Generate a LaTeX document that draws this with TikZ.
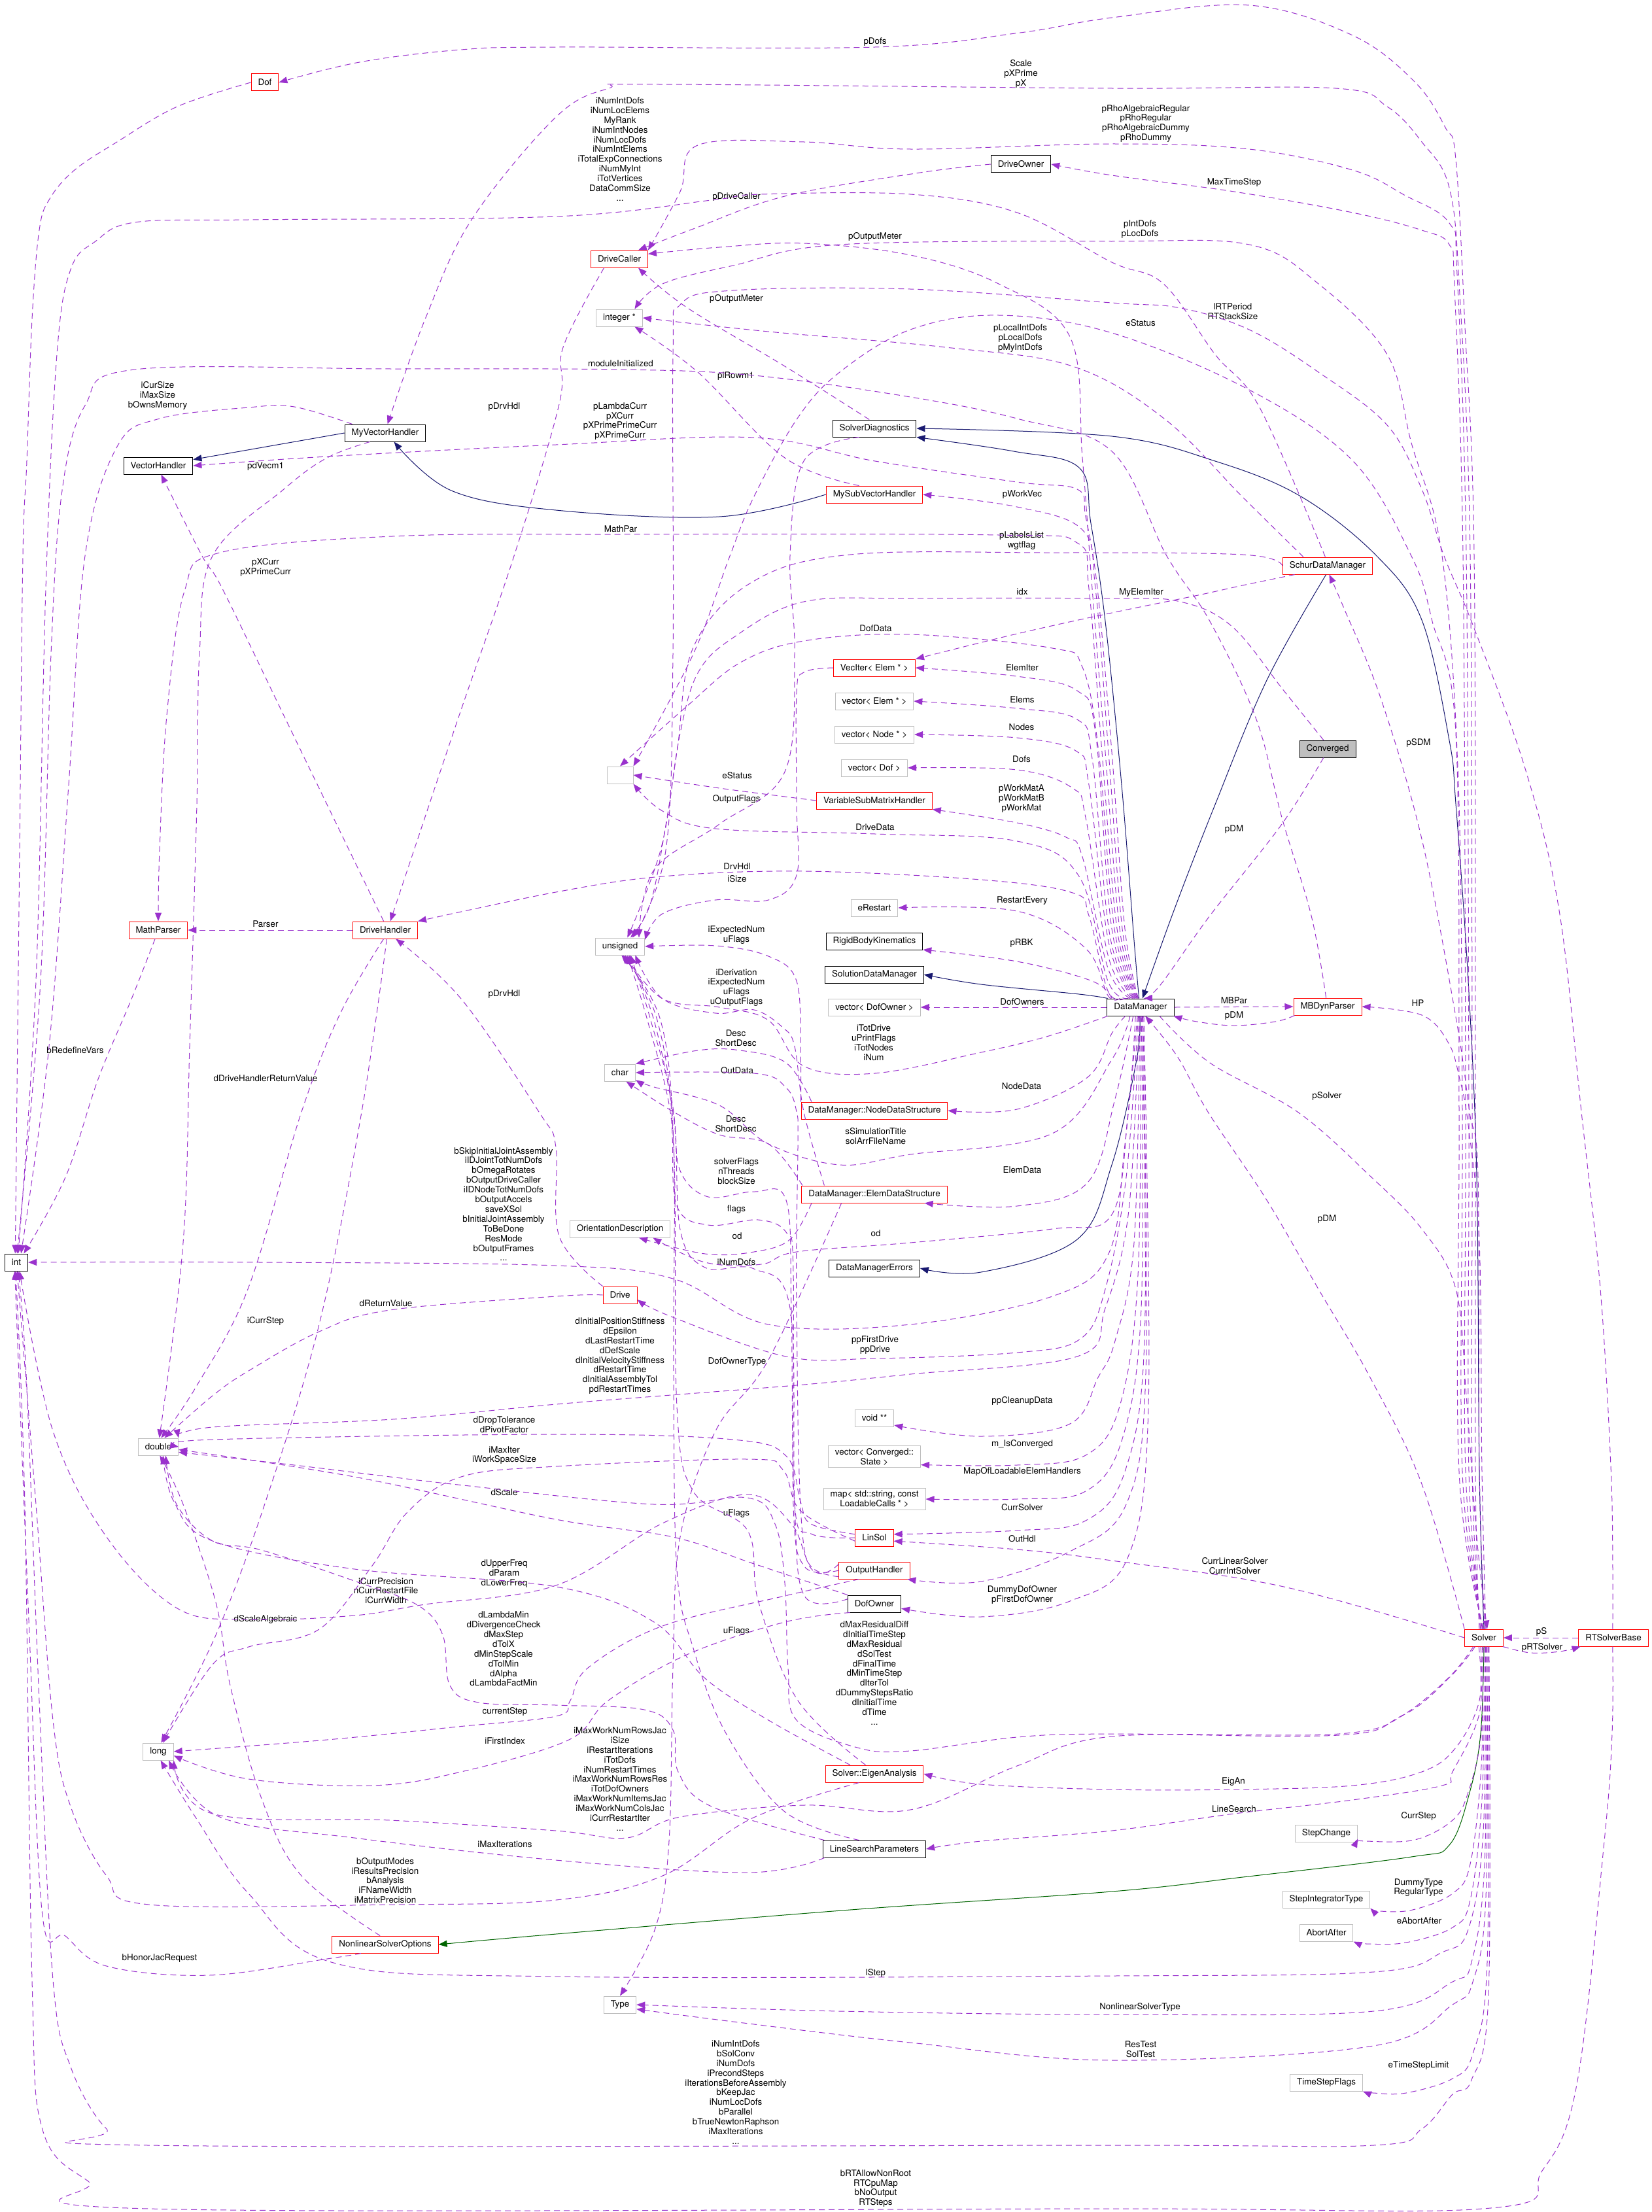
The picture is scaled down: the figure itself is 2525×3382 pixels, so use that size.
\documentclass[tikz,border=0pt]{standalone}
\usepackage{fontspec}
\setmainfont{TeX Gyre Heros}
\usetikzlibrary{arrows.meta}
\definecolor{edgepurple}{RGB}{154,50,205}
\definecolor{inhblue}{RGB}{25,25,112}
\definecolor{compgreen}{RGB}{0,100,0}
\definecolor{boxgray}{RGB}{191,191,191}
\newcommand{\dxf}{\fontsize{13.4}{14.9}\selectfont}

\begin{document}
\begin{tikzpicture}[x=1pt, y=-1pt]

    % Define the styles
    \tikzstyle{cls} = [rectangle, draw=black, line width=1pt, fill=white, font=\dxf, align=center, minimum height=26pt, inner xsep=10.5pt, inner ysep=4pt]
    \tikzstyle{clsred} = [cls, draw=red]
    \tikzstyle{clsgray} = [cls, draw=boxgray]
    \tikzstyle{focus} = [cls, fill=boxgray]
    \tikzstyle{lbl} = [font=\dxf, align=center, inner sep=0pt]
    \tikzstyle{dep} = [draw=edgepurple, line width=1pt, dash pattern=on 9pt off 6pt, -{Triangle[length=13pt,width=10pt]}, fill=none]
    \tikzstyle{inh} = [draw=inhblue, line width=1pt, -{Triangle[length=13pt,width=10pt]}]
    \tikzstyle{comp} = [draw=compgreen, line width=1pt, -{Triangle[length=13pt,width=10pt]}]

    \fill[white] (0,0) rectangle (2525,3382);
    \useasboundingbox (0,0) rectangle (2525,3382);

    % Nodes
    \node[clsred] (dof) at (405,126) {Dof};
    \node[cls] (myvh) at (589,662) {MyVectorHandler};
    \node[cls] (vh) at (242,712) {VectorHandler};
    \node[cls] (driveowner) at (1561,251) {DriveOwner};
    \node[clsred] (drivecaller) at (947,396) {DriveCaller};
    \node[clsgray] (integer) at (947,486) {integer *};
    \node[cls] (solverdiag) at (1337,655) {SolverDiagnostics};
    \node[clsred] (mysubvh) at (1337,756) {MySubVectorHandler};
    \node[clsred] (schur) at (2030,865) {SchurDataManager};
    \node[focus] (converged) at (2030,1145) {Converged};
    \node[cls] (dm) at (1744,1540) {DataManager};
    \node[clsred] (mbdyn) at (2030,1539) {MBDynParser};
    \node[clsred] (solver) at (2269,2504) {Solver};
    \node[clsred] (rtsb) at (2467,2504) {RTSolverBase};
    \node[clsgray] (stepchange) at (2028,2803) {StepChange};
    \node[clsgray] (stepint) at (2028,2904) {StepIntegratorType};
    \node[clsgray] (abortafter) at (2028,2955) {AbortAfter};
    \node[clsgray] (tsflags) at (2028,3184) {TimeStepFlags};
    \node[clsred] (mathparser) at (242,1422) {MathParser};
    \node[clsred] (drivehandler) at (589,1422) {DriveHandler};
    \node[clsgray, minimum width=40pt] (blank) at (948,1185) {};
    \node[clsred] (veciter) at (1337,1021) {VecIter< Elem * >};
    \node[clsgray] (vecelem) at (1337,1072) {vector< Elem * >};
    \node[clsgray] (vecnode) at (1337,1123) {vector< Node * >};
    \node[clsgray] (vecdof) at (1337,1174) {vector< Dof >};
    \node[clsred] (vsmh) at (1337,1224) {VariableSubMatrixHandler};
    \node[clsgray] (erestart) at (1337,1388) {eRestart};
    \node[cls] (rbk) at (1337,1439) {RigidBodyKinematics};
    \node[cls] (sdm) at (1337,1490) {SolutionDataManager};
    \node[clsgray] (vecdofowner) at (1337,1540) {vector< DofOwner >};
    \node[clsgray] (unsigned) at (948,1447) {unsigned};
    \node[clsgray] (char) at (948,1640) {char};
    \node[clsred] (nds) at (1337,1698) {DataManager::NodeDataStructure};
    \node[clsred] (eds) at (1337,1826) {DataManager::ElemDataStructure};
    \node[clsgray] (orient) at (948,1879) {OrientationDescription};
    \node[cls] (dmerr) at (1337,1939) {DataManagerErrors};
    \node[clsred] (drive) at (948,1980) {Drive};
    \node[clsgray] (voidpp) at (1337,2168) {void **};
    \node[clsgray] (vecconv) at (1337,2227) {vector< Converged::\\State >};
    \node[clsgray] (mapload) at (1337,2292) {map< std::string, const\\LoadableCalls * >};
    \node[clsred] (linsol) at (1337,2351) {LinSol};
    \node[clsred] (outhdl) at (1337,2401) {OutputHandler};
    \node[cls] (dofowner) at (1337,2452) {DofOwner};
    \node[cls] (int) at (25,1930) {int};
    \node[clsgray] (double) at (242,2212) {double};
    \node[clsgray] (long) at (242,2678) {long};
    \node[clsred] (nlso) at (589,2973) {NonlinearSolverOptions};
    \node[clsred] (eigen) at (1337,2712) {Solver::EigenAnalysis};
    \node[cls] (lsp) at (1337,2827) {LineSearchParameters};
    \node[clsgray] (type) at (948,3065) {Type};

    % Labels
    \node[lbl] (lPDofs) at (1338,64) {pDofs};
    \node[lbl] (lScale) at (1561,113) {Scale\\pXPrime\\pX};
    \node[lbl] (lSchurInt) at (948,228) {iNumIntDofs\\iNumLocElems\\MyRank\\iNumIntNodes\\iNumLocDofs\\iNumIntElems\\iTotalExpConnections\\iNumMyInt\\iTotVertices\\DataCommSize\\...};
    \node[lbl] (lRho) at (1752,189) {pRhoAlgebraicRegular\\pRhoRegular\\pRhoAlgebraicDummy\\pRhoDummy};
    \node[lbl] (lDriveCaller) at (1126,301) {pDriveCaller};
    \node[lbl] (lMaxTS) at (1887,279) {MaxTimeStep};
    \node[lbl] (lOutMeterA) at (1338,362) {pOutputMeter};
    \node[lbl] (lIntDofs) at (1743,351) {pIntDofs\\pLocDofs};
    \node[lbl] (lOutMeterB) at (1126,457) {pOutputMeter};
    \node[lbl] (lRTPeriod) at (1885,476) {lRTPeriod\\RTStackSize};
    \node[lbl] (lEStatusS) at (1744,494) {eStatus};
    \node[lbl] (lLocalDofs) at (1560,517) {pLocalIntDofs\\pLocalDofs\\pMyIntDofs};
    \node[lbl] (lModInit) at (949,556) {moduleInitialized};
    \node[lbl] (lRowm) at (1125,575) {piRowm1};
    \node[lbl] (lCurSize) at (241,605) {iCurSize\\iMaxSize\\bOwnsMemory};
    \node[lbl] (lDrvHdlA) at (771,622) {pDrvHdl};
    \node[lbl] (lLambda) at (948,644) {pLambdaCurr\\pXCurr\\pXPrimePrimeCurr\\pXPrimeCurr};
    \node[lbl] (lVecm) at (406,713) {pdVecm1};
    \node[lbl] (lWorkVec) at (1563,756) {pWorkVec};
    \node[lbl] (lMathPar) at (949,809) {MathPar};
    \node[lbl] (lLabels) at (1562,827) {pLabelsList\\wgtflag};
    \node[lbl] (lXCurr) at (406,867) {pXCurr\\pXPrimeCurr};
    \node[lbl] (lIdx) at (1563,905) {idx};
    \node[lbl] (lMyElemIter) at (1745,906) {MyElemIter};
    \node[lbl] (lDofData) at (1339,961) {DofData};
    \node[lbl] (lElemIter) at (1563,1021) {ElemIter};
    \node[lbl] (lElems) at (1563,1070) {Elems};
    \node[lbl] (lNodes) at (1562,1112) {Nodes};
    \node[lbl] (lSDM) at (2169,1136) {pSDM};
    \node[lbl] (lDofs) at (1562,1161) {Dofs};
    \node[lbl] (lEStatusV) at (1127,1186) {eStatus};
    \node[lbl] (lWorkMat) at (1562,1221) {pWorkMatA\\pWorkMatB\\pWorkMat};
    \node[lbl] (lOutFlags) at (1126,1222) {OutputFlags};
    \node[lbl] (lDriveData) at (1338,1265) {DriveData};
    \node[lbl] (lPDMc) at (1887,1268) {pDM};
    \node[lbl] (lDrvHdl) at (1127,1325) {DrvHdl};
    \node[lbl] (lISize) at (1127,1344) {iSize};
    \node[lbl] (lRestart) at (1563,1377) {RestartEvery};
    \node[lbl] (lParser) at (406,1413) {Parser};
    \node[lbl] (lExpNum) at (1126,1430) {iExpectedNum\\uFlags};
    \node[lbl] (lRBK) at (1562,1442) {pRBK};
    \node[lbl] (lDeriv) at (1126,1510) {iDerivation\\iExpectedNum\\uFlags\\uOutputFlags};
    \node[lbl] (lDrvHdlB) at (771,1520) {pDrvHdl};
    \node[lbl] (lMBPar) at (1887,1530) {MBPar};
    \node[lbl] (lHP) at (2168,1534) {HP};
    \node[lbl] (lDofOwners) at (1563,1532) {DofOwners};
    \node[lbl] (lPDMm) at (1887,1553) {pDM};
    \node[lbl] (lTotDrive) at (1336,1594) {iTotDrive\\uPrintFlags\\iTotNodes\\iNum};
    \node[lbl] (lDescN) at (1125,1587) {Desc\\ShortDesc};
    \node[lbl] (lRedef) at (115,1606) {bRedefineVars};
    \node[lbl] (lOutData) at (1127,1637) {OutData};
    \node[lbl] (lDHRet) at (406,1649) {dDriveHandlerReturnValue};
    \node[lbl] (lNodeData) at (1562,1661) {NodeData};
    \node[lbl] (lPSolver) at (2029,1676) {pSolver};
    \node[lbl] (lDescE) at (1125,1718) {Desc\\ShortDesc};
    \node[lbl] (lSimTitle) at (1339,1737) {sSimulationTitle\\solArrFileName};
    \node[lbl] (lElemData) at (1563,1789) {ElemData};
    \node[lbl] (lSolverFlags) at (1126,1791) {solverFlags\\nThreads\\blockSize};
    \node[lbl] (lSkip) at (770,1841) {bSkipInitialJointAssembly\\iIDJointTotNumDofs\\bOmegaRotates\\bOutputDriveCaller\\iIDNodeTotNumDofs\\bOutputAccels\\saveXSol\\bInitialJointAssembly\\ToBeDone\\ResMode\\bOutputFrames\\...};
    \node[lbl] (lFlags) at (1126,1849) {flags};
    \node[lbl] (lPDMs) at (2029,1864) {pDM};
    \node[lbl] (lOdE) at (1127,1890) {od};
    \node[lbl] (lOdD) at (1339,1886) {od};
    \node[lbl] (lNumDofs) at (1126,1930) {iNumDofs};
    \node[lbl] (lRetVal) at (590,1993) {dReturnValue};
    \node[lbl] (lCurrStepD) at (406,2020) {iCurrStep};
    \node[lbl] (lStiff) at (948,2073) {dInitialPositionStiffness\\dEpsilon\\dLastRestartTime\\dDefScale\\dInitialVelocityStiffness\\dRestartTime\\dInitialAssemblyTol\\pdRestartTimes};
    \node[lbl] (lPPDrive) at (1338,2057) {ppFirstDrive\\ppDrive};
    \node[lbl] (lDOType) at (1127,2082) {DofOwnerType};
    \node[lbl] (lCleanup) at (1563,2142) {ppCleanupData};
    \node[lbl] (lDropTol) at (771,2178) {dDropTolerance\\dPivotFactor};
    \node[lbl] (lIsConv) at (1563,2208) {m\_IsConverged};
    \node[lbl] (lMaxIter) at (771,2225) {iMaxIter\\iWorkSpaceSize};
    \node[lbl] (lMapLoad) at (1563,2250) {MapOfLoadableElemHandlers};
    \node[lbl] (lDScale) at (771,2282) {dScale};
    \node[lbl] (lCurrSolver) at (1563,2305) {CurrSolver};
    \node[lbl] (lUFlagsA) at (1126,2314) {uFlags};
    \node[lbl] (lOutHdl) at (1563,2353) {OutHdl};
    \node[lbl] (lCurrLin) at (1888,2394) {CurrLinearSolver\\CurrIntSolver};
    \node[lbl] (lFreq) at (771,2406) {dUpperFreq\\dParam\\dLowerFreq};
    \node[lbl] (lCurrPrec) at (590,2432) {iCurrPrecision\\nCurrRestartFile\\iCurrWidth};
    \node[lbl] (lDummyDO) at (1563,2438) {DummyDofOwner\\pFirstDofOwner};
    \node[lbl] (lScaleAlg) at (406,2476) {dScaleAlgebraic};
    \node[lbl] (lUFlagsB) at (1126,2494) {uFlags};
    \node[lbl] (lPS) at (2357,2495) {pS};
    \node[lbl] (lPRT) at (2358,2519) {pRTSolver};
    \node[lbl] (lLambdaMin) at (770,2521) {dLambdaMin\\dDivergenceCheck\\dMaxStep\\dTolX\\dMinStepScale\\dTolMin\\dAlpha\\dLambdaFactMin};
    \node[lbl] (lMaxRes) at (1337,2558) {dMaxResidualDiff\\dInitialTimeStep\\dMaxResidual\\dSolTest\\dFinalTime\\dMinTimeStep\\dIterTol\\dDummyStepsRatio\\dInitialTime\\dTime\\...};
    \node[lbl] (lCurStep) at (772,2617) {currentStep};
    \node[lbl] (lFirstIdx) at (772,2662) {iFirstIndex};
    \node[lbl] (lMaxWork) at (948,2720) {iMaxWorkNumRowsJac\\iSize\\iRestartIterations\\iTotDofs\\iNumRestartTimes\\iMaxWorkNumRowsRes\\iTotDofOwners\\iMaxWorkNumItemsJac\\iMaxWorkNumColsJac\\iCurrRestartIter\\...};
    \node[lbl] (lEigAn) at (1886,2724) {EigAn};
    \node[lbl] (lLineSearch) at (1887,2766) {LineSearch};
    \node[lbl] (lCurrStepS) at (2169,2777) {CurrStep};
    \node[lbl] (lMaxIters) at (772,2820) {iMaxIterations};
    \node[lbl] (lEigOpts) at (589,2875) {bOutputModes\\iResultsPrecision\\bAnalysis\\iFNameWidth\\iMatrixPrecision};
    \node[lbl] (lDummyType) at (2169,2886) {DummyType\\RegularType};
    \node[lbl] (lAbort) at (2170,2937) {eAbortAfter};
    \node[lbl] (lHonor) at (244,2994) {bHonorJacRequest};
    \node[lbl] (lLStep) at (1339,3017) {lStep};
    \node[lbl] (lNLType) at (1743,3069) {NonlinearSolverType};
    \node[lbl] (lResTest) at (1744,3133) {ResTest\\SolTest};
    \node[lbl] (lTSLimit) at (2169,3158) {eTimeStepLimit};
    \node[lbl] (lSolverInt) at (1125,3199) {iNumIntDofs\\bSolConv\\iNumDofs\\iPrecondSteps\\iIterationsBeforeAssembly\\bKeepJac\\iNumLocDofs\\bParallel\\bTrueNewtonRaphson\\iMaxIterations\\...};
    \node[lbl] (lRT) at (1339,3346) {bRTAllowNonRoot\\RTCpuMap\\bNoOutput\\RTSteps};

    % Arrows: inheritance
    \draw[inh] (myvh.west) -- (vh.10);
    \draw[inh] plot[smooth,tension=.6] coordinates {(mysubvh.west) (1100,790) (850,780) (690,750) (myvh.-45)};
    \draw[inh] plot[smooth,tension=.6] coordinates {(solver.north) (2262,2250) (2258,1800) (2245,1500) (2226,1229) (2216,1132) (2174,948) (2105,850) (1989,759) (1858,705) (1700,667) (solverdiag.east)};
    \draw[inh] plot[smooth,tension=.6] coordinates {(dm.100) (1735,1450) (1715,1200) (1690,950) (1668,800) (1650,715) (1550,690) (solverdiag.south east)};
    \draw[inh] plot[smooth,tension=.6] coordinates {(schur.-100) (1937,1040) (1858,1230) (1795,1392) (dm.78)};
    \draw[inh] plot[smooth,tension=.6] coordinates {(dm.165) (1650,1520) (1500,1505) (sdm.east)};
    \draw[inh] plot[smooth,tension=.6] coordinates {(dm.-95) (1738,1620) (1700,1781) (1647,1895) (1500,1945) (dmerr.east)};
    \draw[comp] plot[smooth,tension=.6] coordinates {(solver.south) (2264,2650) (2247,2741) (2216,2821) (2158,2839) (1900,2870) (1700,2892) (1300,2920) (850,2957) (nlso.east)};

    % Arrows: Solver
    \draw[dep] plot[smooth,tension=.6] coordinates {(solver.118) (2256,2250) (2256,1700) (2254,850) (2240,500) (2226,244) (2210,195) (2163,125) (2068,54) (1910,8) (1700,27) (1560,50) (1338,72) (850,72) (705,76) (550,95) (dof.east)};
    \draw[dep] plot[smooth,tension=.6] coordinates {(solver.112) (2251,2250) (2251,1700) (2248,850) (2232,450) (2216,287) (2174,217) (2121,163) (2042,135) (1700,135) (1002,129) (931,135) (850,179) (721,336) (650,488) (myvh.75)};
    \draw[dep] plot[smooth,tension=.6] coordinates {(solver.106) (2246,2250) (2246,1700) (2242,850) (2228,420) (2216,341) (2147,298) (2068,260) (1910,228) (1700,220) (1392,228) (1229,217) (1067,222) (1040,293) (drivecaller.north east)};
    \draw[dep] plot[smooth,tension=.6] coordinates {(solver.100) (2241,2250) (2241,1700) (2237,850) (2224,440) (2216,374) (2174,352) (2068,325) (1887,293) (1700,268) (driveowner.east)};
    \draw[dep] plot[smooth,tension=.6] coordinates {(solver.96) (2236,2250) (2236,1700) (2230,1200) (2205,850) (2158,677) (2121,542) (2016,434) (1910,374) (1700,369) (1284,374) (1121,406) (1013,434) (integer.30)};
    \draw[dep] plot[smooth,tension=.6] coordinates {(solver.92) (2231,2250) (2231,1700) (2226,1121) (2190,950) (2158,850) (2068,704) (1910,596) (1700,509) (1527,482) (1392,504) (1284,569) (1219,640) (1153,759) (1116,850) (1060,1000) (blank.north east)};
    \draw[dep] plot[smooth,tension=.6] coordinates {(solver.84) (2262,2250) (2260,1800) (2247,1700) (2226,1555) (2174,1283) (2111,1067) (2055,930) (schur.-80)};
    \draw[dep] plot[smooth,tension=.6] coordinates {(solver.78) (2266,2250) (2262,1900) (2245,1720) (2232,1650) (2215,1595) (2174,1552) (mbdyn.east)};
    \draw[dep] plot[smooth,tension=.6] coordinates {(dm.-25) (1850,1625) (1984,1700) (2095,1798) (2174,1879) (2226,1971) (2242,2134) (2258,2350) (solver.70)};
    \draw[dep] plot[smooth,tension=.6] coordinates {(solver.north west) (2174,2269) (2095,2106) (2016,1971) (1937,1835) (1847,1700) (1800,1615) (dm.-62)};
    \draw[dep] plot[smooth,tension=.6] coordinates {(solver.-135) (2221,2560) (2150,2620) (2047,2651) (1700,2655) (1555,2700) (1392,2767) (1229,2760) (1040,2778) (958,2810) (850,2799) (596,2783) (325,2773) (long.south east)};
    \draw[dep] plot[smooth,tension=.6] coordinates {(solver.-140) (2215,2565) (2140,2625) (2047,2653) (1700,2651) (1555,2656) (1392,2677) (1311,2672) (1218,2630) (1205,2550) (1200,2420) (1185,2330) (1143,2290) (1000,2300) (700,2270) (450,2240) (double.-15)};
    \draw[dep] plot[smooth,tension=.6] coordinates {(solver.-120) (2262,2600) (2226,2672) (2174,2709) (2068,2730) (1886,2736) (1700,2736) (1500,2728) (eigen.east)};
    \draw[dep] plot[smooth,tension=.6] coordinates {(solver.-110) (2262,2620) (2221,2709) (2205,2730) (2068,2752) (1887,2773) (1700,2799) (1500,2815) (lsp.east)};
    \draw[dep] plot[smooth,tension=.6] coordinates {(solver.-100) (2265,2650) (2245,2740) (2221,2783) (2163,2813) (2089,2815) (stepchange.-10)};
    \draw[dep] plot[smooth,tension=.6] coordinates {(solver.-95) (2265,2700) (2248,2850) (2221,2895) (2160,2920) (2110,2922) (stepint.south east)};
    \draw[dep] plot[smooth,tension=.6] coordinates {(solver.-85) (2266,2750) (2248,2905) (2221,2947) (2150,2970) (2090,2972) (abortafter.south east)};
    \draw[dep] plot[smooth,tension=.6] coordinates {(solver.-80) (2268,2800) (2245,2950) (2205,2985) (2100,3015) (1700,3021) (850,3022) (510,3001) (380,2895) (300,2780) (long.-75)};
    \draw[dep] plot[smooth,tension=.6] coordinates {(solver.-75) (2270,2850) (2250,3000) (2221,3030) (2100,3075) (1700,3080) (1284,3075) (type.east)};
    \draw[dep] plot[smooth,tension=.6] coordinates {(solver.-70) (2272,2900) (2252,3030) (2221,3065) (2100,3128) (1700,3150) (1392,3123) (1121,3091) (type.-15)};
    \draw[dep] plot[smooth,tension=.6] coordinates {(solver.-65) (2274,3000) (2252,3140) (2221,3178) (2150,3200) (2100,3200) (tsflags.south east)};
    \draw[dep] plot[smooth,tension=.6] coordinates {(solver.-60) (2276,3050) (2250,3180) (2221,3202) (2174,3255) (2100,3280) (1700,3280) (228,3280) (163,3255) (108,3160) (81,3027) (60,2600) (40,2100) (int.-80)};
    \draw[dep] plot[smooth,tension=.6] coordinates {(solver.west) (1963,2426) (1700,2386) (1555,2369) (linsol.-10)};
    \draw[dep] (rtsb.west) -- (solver.east);
    \draw[dep] plot[smooth,tension=.6] coordinates {(solver.-25) (2340,2527) (2385,2525) (rtsb.-165)};
    \draw[dep] plot[smooth,tension=.6] coordinates {(rtsb.-95) (2465,2650) (2453,2815) (2411,3187) (2358,3319) (2279,3376) (1700,3377) (228,3377) (135,3335) (65,3256) (49,3027) (38,2300) (int.-95)};
    \draw[dep] plot[smooth,tension=.6] coordinates {(rtsb.95) (2466,2400) (2463,2242) (2447,1971) (2418,1700) (2384,1392) (2332,1175) (2253,958) (2208,850) (2174,748) (2121,650) (2016,569) (1910,504) (1805,471) (1700,463) (1392,442) (1121,444) (1040,466) (1029,542) (1029,1000) (1018,1300) (unsigned.35)};

    % Arrows: DataManager
    \draw[dep] plot[smooth,tension=.6] coordinates {(dm.104) (1720,1420) (1700,1150) (1678,900) (1660,790) (1647,748) (1555,737) (1338,705) (1153,669) (850,680) (500,698) (vh.east)};
    \draw[dep] plot[smooth,tension=.6] coordinates {(dm.108) (1716,1420) (1695,1150) (1675,900) (1655,810) (1555,775) (mysubvh.east)};
    \draw[dep] plot[smooth,tension=.6] coordinates {(dm.112) (1712,1420) (1690,1150) (1670,900) (1655,700) (1636,515) (1527,434) (1392,390) (1229,372) (1100,378) (drivecaller.10)};
    \draw[dep] plot[smooth,tension=.6] coordinates {(dm.116) (1708,1420) (1685,1150) (1665,900) (1647,830) (1527,818) (949,817) (600,820) (336,845) (282,904) (255,1094) (244,1300) (mathparser.north)};
    \draw[dep] plot[smooth,tension=.6] coordinates {(dm.120) (1704,1420) (1680,1150) (1655,1020) (1609,991) (1392,970) (1229,980) (1132,1013) (1050,1080) (blank.north)};
    \draw[dep] plot[smooth,tension=.6] coordinates {(dm.124) (1700,1420) (1675,1120) (1647,1056) (1555,1034) (veciter.east)};
    \draw[dep] plot[smooth,tension=.6] coordinates {(dm.128) (1697,1430) (1670,1160) (1647,1100) (1555,1083) (vecelem.east)};
    \draw[dep] plot[smooth,tension=.6] coordinates {(dm.132) (1695,1440) (1665,1200) (1645,1148) (1555,1128) (vecnode.east)};
    \draw[dep] plot[smooth,tension=.6] coordinates {(dm.136) (1694,1460) (1660,1250) (1640,1205) (1555,1177) (vecdof.east)};
    \draw[dep] plot[smooth,tension=.6] coordinates {(dm.140) (1694,1480) (1655,1310) (1630,1280) (1555,1258) (vsmh.south east)};
    \draw[dep] plot[smooth,tension=.6] coordinates {(dm.144) (1694,1500) (1650,1340) (1555,1286) (1338,1275) (1094,1267) (1013,1240) (blank.south east)};
    \draw[dep] plot[smooth,tension=.6] coordinates {(dm.150) (1694,1515) (1665,1400) (1640,1365) (1500,1345) (1229,1332) (1013,1340) (850,1364) (drivehandler.north east)};
    \draw[dep] plot[smooth,tension=.6] coordinates {(dm.157) (1694,1522) (1660,1450) (1555,1393) (erestart.east)};
    \draw[dep] plot[smooth,tension=.6] coordinates {(dm.163) (1670,1500) (1555,1470) (rbk.-10)};
    \draw[dep] (dm.west) -- (vecdofowner.east);
    \draw[dep] plot[smooth,tension=.6] coordinates {(dm.-165) (1600,1585) (1500,1609) (1338,1641) (1229,1630) (1175,1560) (1100,1540) (1013,1527) (unsigned.-60)};
    \draw[dep] plot[smooth,tension=.6] coordinates {(dm.-150) (1700,1580) (1663,1647) (1555,1696) (nds.east)};
    \draw[dep] plot[smooth,tension=.6] coordinates {(dm.-140) (1700,1620) (1609,1733) (1392,1765) (1284,1781) (1175,1749) (1100,1690) (1000,1662) (char.-25)};
    \draw[dep] plot[smooth,tension=.6] coordinates {(dm.-130) (1705,1680) (1663,1808) (1555,1844) (eds.-10)};
    \draw[dep] plot[smooth,tension=.6] coordinates {(dm.-120) (1725,1700) (1700,1857) (1609,1879) (1392,1900) (1218,1914) (1164,1933) (1078,1930) (orient.-15)};
    \draw[dep] plot[smooth,tension=.6] coordinates {(dm.-110) (1720,1750) (1695,1917) (1609,1982) (1392,2025) (1175,2025) (1029,1955) (850,1935) (400,1930) (int.east)};
    \draw[dep] plot[smooth,tension=.6] coordinates {(dm.-105) (1722,1800) (1690,1971) (1652,2047) (1555,2068) (1338,2077) (1202,2074) (1029,2014) (drive.-15)};
    \draw[dep] plot[smooth,tension=.6] coordinates {(dm.-100) (1726,1850) (1690,2000) (1647,2074) (1392,2101) (1229,2117) (1013,2134) (850,2147) (600,2170) (325,2182) (double.north east)};
    \draw[dep] plot[smooth,tension=.6] coordinates {(dm.-95) (1734,1900) (1705,2050) (1679,2106) (1636,2177) (1500,2196) (voidpp.-20)};
    \draw[dep] plot[smooth,tension=.6] coordinates {(dm.-90) (1740,1950) (1712,2150) (1660,2225) (1555,2240) (vecconv.-10)};
    \draw[dep] plot[smooth,tension=.6] coordinates {(dm.-85) (1745,2000) (1716,2200) (1660,2280) (1555,2292) (mapload.east)};
    \draw[dep] plot[smooth,tension=.6] coordinates {(dm.-80) (1750,2050) (1720,2250) (1660,2325) (1555,2340) (linsol.10)};
    \draw[dep] plot[smooth,tension=.6] coordinates {(dm.-75) (1752,2100) (1722,2300) (1636,2372) (1500,2418) (outhdl.-15)};
    \draw[dep] plot[smooth,tension=.6] coordinates {(dm.-70) (1756,2150) (1725,2380) (1636,2448) (1500,2472) (dofowner.-10)};
    \draw[dep] (dm.east) -- (mbdyn.west);

    % Arrows: Converged, SchurDataManager, MBDynParser
    \draw[dep] plot[smooth,tension=.6] coordinates {(converged.-115) (1960,1260) (1850,1400) (1775,1505) (dm.70)};
    \draw[dep] plot[smooth,tension=.6] coordinates {(converged.115) (1963,1056) (1884,958) (1805,920) (1700,915) (1400,915) (1229,920) (1121,975) (1067,1029) (1040,1121) (1020,1250) (995,1380) (unsigned.40)};
    \draw[dep] plot[smooth,tension=.6] coordinates {(schur.105) (1926,623) (1858,542) (1779,434) (1700,401) (1555,325) (1392,297) (1164,297) (1088,306) (850,331) (380,336) (206,340) (146,369) (108,412) (87,542) (70,900) (55,1500) (int.78)};
    \draw[dep] plot[smooth,tension=.6] coordinates {(schur.160) (1900,760) (1780,640) (1640,560) (1446,531) (1175,507) (integer.east)};
    \draw[dep] plot[smooth,tension=.6] coordinates {(schur.west) (1900,848) (1603,845) (1300,848) (1150,890) (1060,990) (1035,1150) (1010,1300) (unsigned.50)};
    \draw[dep] plot[smooth,tension=.6] coordinates {(schur.-165) (1900,895) (1832,910) (1700,937) (1555,969) (veciter.north east)};
    \draw[dep] plot[smooth,tension=.6] coordinates {(mbdyn.-165) (1950,1562) (1887,1568) (1830,1562) (dm.-15)};
    \draw[dep] plot[smooth,tension=.6] coordinates {(mbdyn.100) (2005,1400) (1960,1250) (1921,1100) (1850,950) (1784,850) (1700,690) (1555,640) (1392,607) (1153,574) (949,565) (600,564) (206,565) (130,620) (95,750) (78,1000) (62,1500) (int.85)};

    % Arrows: vector handlers, drives, parser
    \draw[dep] plot[smooth,tension=.6] coordinates {(myvh.165) (450,622) (380,623) (244,640) (179,683) (130,850) (105,1200) (75,1600) (int.62)};
    \draw[dep] plot[smooth,tension=.6] coordinates {(myvh.-150) (500,700) (434,748) (325,850) (305,1000) (301,1229) (290,1600) (280,1900) (double.83)};
    \draw[dep] plot[smooth,tension=.6] coordinates {(mysubvh.150) (1200,700) (1067,569) (integer.-30)};
    \draw[dep] plot[smooth,tension=.6] coordinates {(solverdiag.120) (1200,560) (1050,470) (drivecaller.-25)};
    \draw[dep] plot[smooth,tension=.6] coordinates {(solverdiag.-150) (1229,705) (1208,850) (1215,1000) (1200,1180) (1100,1260) (1000,1330) (unsigned.25)};
    \draw[dep] plot[smooth,tension=.6] coordinates {(driveowner.west) (1400,265) (1200,300) (1060,350) (drivecaller.25)};
    \draw[dep] plot[smooth,tension=.6] coordinates {(drivecaller.-150) (861,531) (855,618) (786,850) (700,1100) (drivehandler.60)};
    \draw[dep] (drivehandler.west) -- (mathparser.east);
    \draw[dep] plot[smooth,tension=.6] coordinates {(drivehandler.100) (500,1230) (434,1094) (340,900) (309,850) (vh.-72)};
    \draw[dep] plot[smooth,tension=.6] coordinates {(drivehandler.-100) (520,1550) (461,1700) (379,1971) (300,2120) (double.72)};
    \draw[dep] plot[smooth,tension=.6] coordinates {(drivehandler.-80) (553,1700) (488,2025) (406,2296) (330,2500) (long.72)};
    \draw[dep] plot[smooth,tension=.6] coordinates {(mathparser.-110) (200,1530) (150,1650) (100,1800) (int.50)};
    \draw[dep] plot[smooth,tension=.6] coordinates {(dof.west) (271,163) (179,217) (114,260) (76,304) (60,352) (49,488) (41,705) (35,850) (30,1300) (int.97)};
    \draw[dep] plot[smooth,tension=.6] coordinates {(drive.north west) (855,1890) (850,1754) (824,1700) (705,1527) (drivehandler.-40)};
    \draw[dep] plot[smooth,tension=.6] coordinates {(drive.west) (850,1982) (596,2003) (488,2036) (380,2096) (325,2134) (double.55)};

    % Arrows: LinSol, OutputHandler, DofOwner
    \draw[dep] plot[smooth,tension=.6] coordinates {(linsol.west) (1240,2345) (1215,2300) (1210,2000) (1202,1835) (1153,1822) (1083,1830) (1040,1790) (1029,1700) (1000,1560) (unsigned.-45)};
    \draw[dep] plot[smooth,tension=.6] coordinates {(linsol.170) (1240,2330) (1224,2296) (1202,2226) (1121,2201) (850,2193) (325,2201) (double.east)};
    \draw[dep] plot[smooth,tension=.6] coordinates {(linsol.-170) (1224,2310) (1197,2247) (1143,2231) (850,2242) (705,2258) (623,2312) (569,2394) (488,2491) (380,2518) (325,2545) (long.62)};
    \draw[dep] plot[smooth,tension=.6] coordinates {(outhdl.west) (1230,2395) (1213,2300) (1213,1944) (1202,1884) (1159,1865) (1083,1873) (1034,1841) (1025,1700) (990,1560) (unsigned.-50)};
    \draw[dep] plot[smooth,tension=.6] coordinates {(outhdl.-170) (1240,2395) (1210,2330) (1143,2285) (1013,2329) (850,2424) (650,2453) (542,2470) (380,2476) (271,2459) (163,2350) (81,2188) (int.-70)};
    \draw[dep] plot[smooth,tension=.6] coordinates {(outhdl.170) (1230,2370) (1218,2000) (1220,1750) (1218,1700) (1202,1663) (1153,1641) (char.east)};
    \draw[dep] plot[smooth,tension=.6] coordinates {(outhdl.-150) (1200,2440) (1013,2486) (899,2550) (872,2600) (850,2624) (700,2640) (500,2660) (long.east)};
    \draw[dep] plot[smooth,tension=.6] coordinates {(dofowner.170) (1230,2440) (1215,2300) (1208,2000) (1153,1940) (1078,1938) (1040,1880) (1030,1700) (995,1560) (unsigned.-40)};
    \draw[dep] plot[smooth,tension=.6] coordinates {(dofowner.north west) (1150,2390) (1029,2350) (850,2323) (542,2258) (double.-8)};
    \draw[dep] plot[smooth,tension=.6] coordinates {(dofowner.-160) (1200,2480) (1050,2530) (930,2600) (870,2660) (705,2709) (569,2730) (380,2720) (long.-15)};

    % Arrows: EigenAnalysis, LineSearchParameters, NonlinearSolverOptions
    \draw[dep] plot[smooth,tension=.6] coordinates {(eigen.-150) (1150,2780) (1013,2868) (850,2905) (600,2912) (228,2912) (163,2868) (108,2762) (81,2630) (55,2300) (int.-85)};
    \draw[dep] plot[smooth,tension=.6] coordinates {(eigen.160) (1175,2630) (1078,2566) (1000,2480) (850,2426) (542,2399) (325,2356) (266,2296) (double.-62)};
    \draw[dep] plot[smooth,tension=.6] coordinates {(eigen.135) (1220,2600) (1160,2450) (1143,2340) (1060,2280) (1035,2150) (1030,1750) (1005,1560) (unsigned.-70)};
    \draw[dep] plot[smooth,tension=.6] coordinates {(lsp.-170) (1143,2863) (850,2844) (542,2810) (336,2778) (long.-40)};
    \draw[dep] plot[smooth,tension=.6] coordinates {(lsp.170) (1088,2762) (1037,2709) (1029,2645) (985,2614) (850,2607) (732,2603) (688,2577) (677,2500) (640,2455) (550,2420) (400,2370) (325,2356) (270,2300) (double.-50)};
    \draw[dep] plot[smooth,tension=.6] coordinates {(lsp.150) (1200,2770) (1110,2650) (1060,2520) (1035,2400) (1030,2100) (1030,1750) (1010,1560) (unsigned.-80)};
    \draw[dep] plot[smooth,tension=.6] coordinates {(nlso.-160) (500,2995) (320,3020) (163,3006) (100,2960) (65,2929) (45,2500) (int.-100)};
    \draw[dep] plot[smooth,tension=.6] coordinates {(nlso.120) (461,2868) (400,2750) (352,2577) (330,2450) (280,2300) (double.-80)};

    % Arrows: element iterators, data structures
    \draw[dep] plot[smooth,tension=.6] coordinates {(veciter.west) (1229,1028) (1218,1060) (1218,1229) (1218,1338) (1175,1376) (1094,1376) (1013,1397) (unsigned.15)};
    \draw[dep] plot[smooth,tension=.6] coordinates {(vsmh.west) (1100,1205) (blank.east)};
    \draw[dep] plot[smooth,tension=.6] coordinates {(nds.north west) (1224,1609) (1218,1500) (1175,1462) (1094,1446) (unsigned.east)};
    \draw[dep] plot[smooth,tension=.6] coordinates {(nds.172) (1202,1625) (1132,1606) (1067,1606) (char.north east)};
    \draw[dep] plot[smooth,tension=.6] coordinates {(eds.170) (1229,1700) (1215,1600) (1197,1571) (1153,1544) (1094,1549) (1013,1527) (unsigned.-30)};
    \draw[dep] plot[smooth,tension=.6] coordinates {(eds.173) (1175,1749) (1100,1735) (1030,1700) (char.-55)};
    \draw[dep] plot[smooth,tension=.6] coordinates {(eds.-165) (1175,2079) (1094,2188) (1040,2350) (1029,2550) (1023,2815) (1002,2948) (type.north)};
    \draw[dep] plot[smooth,tension=.6] coordinates {(eds.-172) (1208,1895) (1153,1914) (1078,1917) (orient.-25)};

\end{tikzpicture}
\end{document}
